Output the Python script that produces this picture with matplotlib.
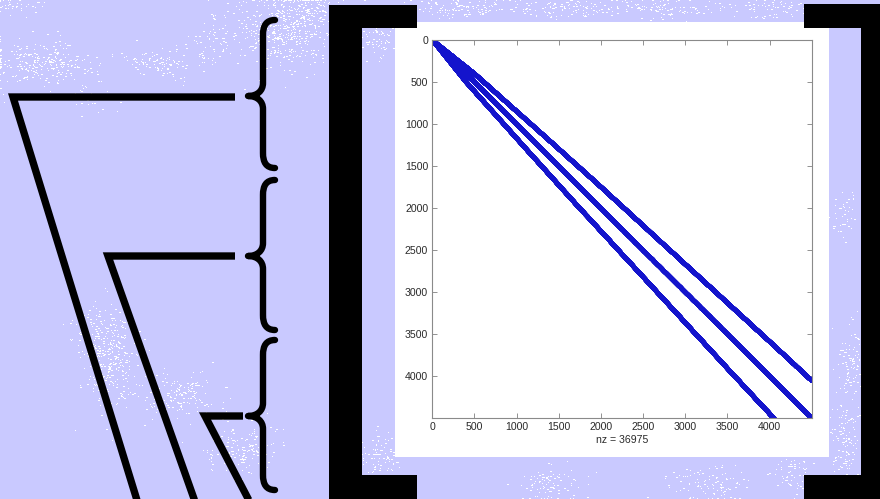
import numpy as np
import matplotlib
matplotlib.use("Agg")
import matplotlib.pyplot as plt
from matplotlib.path import Path
from matplotlib.patches import PathPatch, Rectangle

# ---- sparsity pattern description ----
n = 4499                 # matrix dimension
nz = 36975               # stored nonzeros
main_offsets = [-1, 0, 1]
band_start = 24          # first row of the fanning bands
# distance of the fanning bands from the diagonal, at a few rows
fan_rows = [0, 500, 1300, 1900, 4000, 4500]
fan_offset = [0, 100, 185, 245, 415, 450]

x_ticks = [0, 500, 1000, 1500, 2000, 2500, 3000, 3500, 4000]
y_ticks = [0, 500, 1000, 1500, 2000, 2500, 3000, 3500, 4000]

# ---- build the matrix pattern ----
idx = np.arange(n)
rows_parts, cols_parts = [], []
for k in main_offsets:
    r = idx[(idx + k >= 0) & (idx + k < n)]
    rows_parts.append(r)
    cols_parts.append(r + k)
main_count = sum(len(r) for r in rows_parts)

per_band = (nz - main_count) // 2
band_rows = np.arange(band_start, n)
base_cols = (band_rows - np.interp(band_rows, fan_rows, fan_offset)).round().astype(int)
lr = [band_rows, band_rows]
lc = [base_cols, base_cols + 1]
extra = per_band - 2 * len(band_rows)
pick = np.unique(np.linspace(0, len(band_rows) - 1, extra).round().astype(int))
lr.append(band_rows[pick])
lc.append(base_cols[pick] + 2)
lower_r = np.concatenate(lr)
lower_c = np.concatenate(lc)

rows = np.concatenate(rows_parts + [lower_r, lower_c])
cols = np.concatenate(cols_parts + [lower_c, lower_r])
A = np.zeros((n, n), dtype=np.int8)
A[rows, cols] = 1
count = int(np.count_nonzero(A))

# ---- figure / slide background ----
W, H = 880, 499
bg = "#C9C9FF"
fig = plt.figure(figsize=(W / 100, H / 100), dpi=100, facecolor=bg)
deco = fig.add_axes([0, 0, 1, 1], zorder=0)
deco.set_xlim(0, W)
deco.set_ylim(H, 0)
deco.axis("off")
deco.set_facecolor(bg)

# speckled texture of the slide background
rng = np.random.default_rng(11)
clusters = [
    (40, 62, 28, 11, 260), (95, 95, 10, 8, 40), (160, 62, 18, 8, 110),
    (215, 40, 14, 14, 80), (285, 30, 25, 18, 420), (305, 10, 20, 8, 140),
    (378, 38, 12, 10, 70), (460, 8, 25, 5, 110), (560, 8, 35, 5, 130),
    (670, 8, 30, 5, 110), (775, 8, 18, 5, 60),
    (110, 355, 14, 26, 300), (90, 330, 10, 10, 60), (175, 395, 22, 12, 170),
    (240, 448, 18, 12, 150), (380, 455, 10, 12, 90), (550, 484, 16, 10, 90),
    (712, 484, 22, 10, 100), (792, 472, 10, 12, 70), (845, 445, 7, 22, 110),
    (852, 365, 8, 22, 110), (845, 215, 7, 12, 40), (20, 5, 15, 5, 40),
]
tex = np.zeros((H, W, 4))
for cx, cy, sx, sy, cnt in clusters:
    px = np.clip(rng.normal(cx, sx, cnt).round().astype(int), 0, W - 1)
    py = np.clip(rng.normal(cy, sy, cnt).round().astype(int), 0, H - 1)
    tex[py, px] = (1, 1, 1, 1)
    # some dots are two pixels wide
    half = rng.random(cnt) < 0.35
    tex[py[half], np.clip(px[half] + 1, 0, W - 1)] = (1, 1, 1, 1)
deco.imshow(tex, extent=(0, W, H, 0), interpolation="nearest", zorder=1)

# white panel behind the plot
deco.add_patch(Rectangle((395, 22), 829 - 395, 457 - 22, facecolor="white",
                         edgecolor="none", zorder=2))

# square brackets
for x0, y0, w, h in [(329, 5, 33, 500), (329, 5, 88, 23), (329, 475, 88, 30),
                     (861, 4, 30, 500), (804, 4, 80, 24), (804, 475, 80, 30)]:
    deco.add_patch(Rectangle((x0, y0), w, h, facecolor="black",
                             edgecolor="none", zorder=3))

# curly braces
def brace(y_top, y_mid, y_bot, x_end=275, x_stem=263, x_tip=248):
    verts = [(x_end, y_top),
             (x_stem + 3, y_top), (x_stem, y_top + 6), (x_stem, y_top + 15),
             (x_stem, y_mid - 13),
             (x_stem, y_mid - 5), (x_tip + 9, y_mid), (x_tip, y_mid),
             (x_tip + 9, y_mid), (x_stem, y_mid + 5), (x_stem, y_mid + 13),
             (x_stem, y_bot - 15),
             (x_stem, y_bot - 6), (x_stem + 3, y_bot), (x_end, y_bot)]
    codes = ([Path.MOVETO] + [Path.CURVE4] * 3 + [Path.LINETO] + [Path.CURVE4] * 6
             + [Path.LINETO] + [Path.CURVE4] * 3)
    return PathPatch(Path(verts, codes), facecolor="none", edgecolor="black",
                     lw=4.6, capstyle="round", joinstyle="round", zorder=3)

for yt, ym, yb in [(20, 96, 168), (180, 256, 330), (340, 416, 490)]:
    deco.add_patch(brace(yt, ym, yb))

# hook lines leading to the braces
for pts in [[(235, 97), (13, 97), (140, 510)],
            [(235, 256), (108, 256), (198, 510)],
            [(243, 416), (205, 416), (254, 510)]]:
    xs, ys = zip(*pts)
    deco.plot(xs, ys, color="black", lw=5.3, solid_joinstyle="miter",
              solid_capstyle="butt", zorder=3)

# ---- spy plot ----
ax = fig.add_axes([432.3 / W, 1 - 418.3 / H, (811.7 - 432.3) / W, (418.3 - 40) / H],
                  zorder=5)
ax.spy(A, marker="o", markersize=2.9, color="#1414cc", markeredgewidth=0)
ax.set_aspect("auto")
ax.set_xlim(0, n + 1)
ax.set_ylim(n + 1, 0)
ax.set_xticks(x_ticks)
ax.set_yticks(y_ticks)
ax.xaxis.set_ticks_position("both")
ax.yaxis.set_ticks_position("both")
ax.tick_params(direction="in", length=3.5, width=0.6, color="#808080",
               labelsize=7.6, labelcolor="#2a2a2a", labeltop=False,
               labelbottom=True, pad=3)
for lab in ax.get_xticklabels() + ax.get_yticklabels():
    lab.set_family("Liberation Sans")
for sp in ax.spines.values():
    sp.set_color("#8a8a8a")
    sp.set_linewidth(0.8)
ax.set_title("")
ax.set_xlabel(f"nz = {count}", fontsize=7.6, color="#2a2a2a",
              family="Liberation Sans", labelpad=2)

fig.savefig("out.png", dpi=100, facecolor=bg)
